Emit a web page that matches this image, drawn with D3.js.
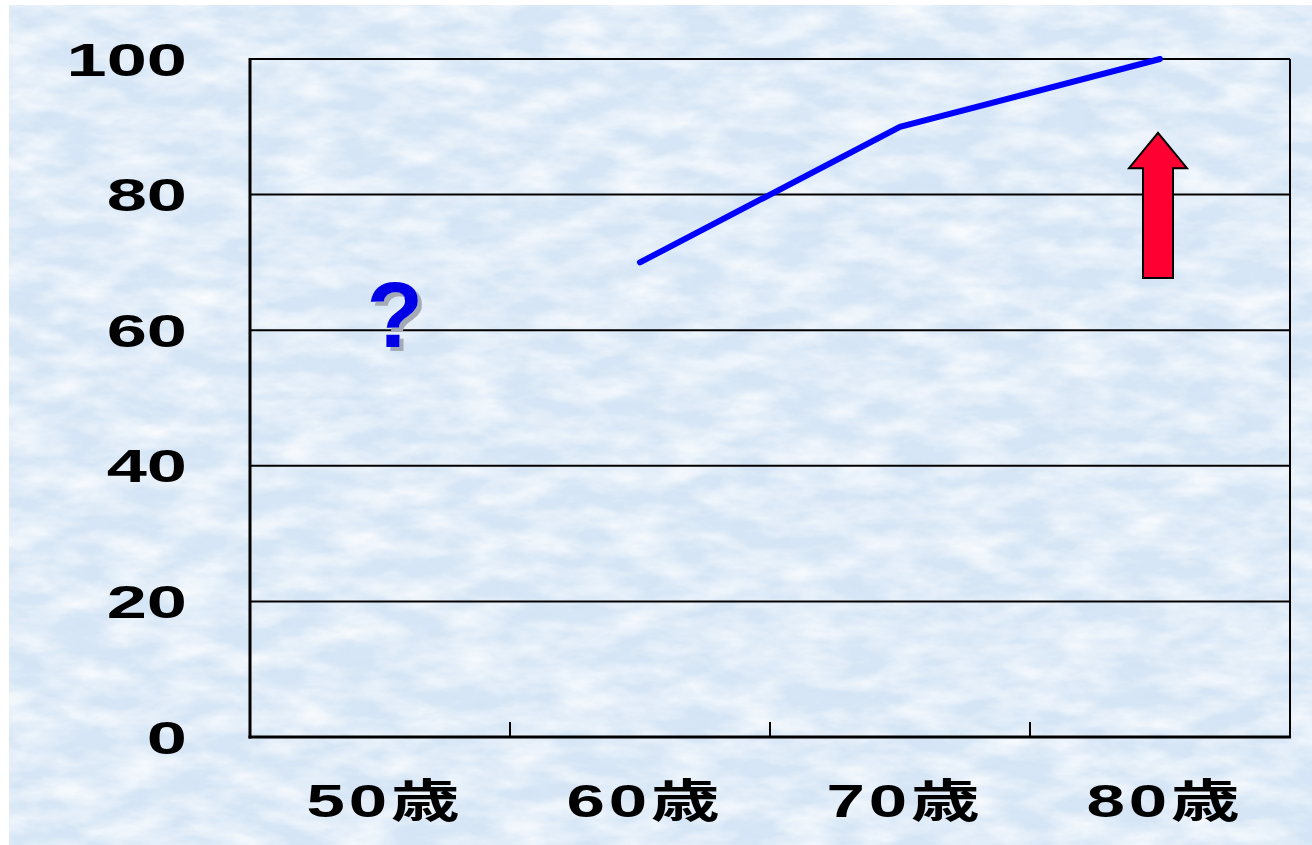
<!DOCTYPE html>
<html>
<head>
<meta charset="utf-8">
<script src="https://cdn.jsdelivr.net/npm/d3@7"></script>
<style>
  html, body { margin: 0; padding: 0; background: #ffffff; }
  svg { display: block; }
</style>
</head>
<body>
<svg id="chart" width="1312" height="845"></svg>
<script>
// Age groups along the x axis
const categories = ["50歳", "60歳", "70歳", "80歳"];
// Series values (50歳 has no value)
const values = [null, 70, 90, 100];
// Y axis tick labels
const yTicks = [0, 20, 40, 60, 80, 100];
// Rising-arrow annotation span (in y units) next to 80歳
const arrowFrom = 67.7;
const arrowHead = 83.9;
const arrowTo = 89.1;
// Question-mark annotation placed at this level on 50歳
const questionLevel = 57.5;

(function draw() {
  const svg = d3.select("#chart");
  const W = 1312, H = 845;
  const plotLeft = 250, plotRight = 1290, plotTop = 59, plotBottom = 737;

  // Mottled light-blue paper background
  const defs = svg.append("defs");
  const f = defs.append("filter").attr("id", "paper")
    .attr("x", 0).attr("y", 0).attr("width", "100%").attr("height", "100%");
  f.append("feTurbulence").attr("type", "fractalNoise")
    .attr("baseFrequency", "0.018 0.045").attr("numOctaves", 4).attr("seed", 7).attr("result", "n");
  f.append("feColorMatrix").attr("in", "n").attr("type", "matrix")
    .attr("values", "0 0 0 0 1  0 0 0 0 1  0 0 0 0 1  1.5 0 0 0 -0.5");
  const f2 = defs.append("filter").attr("id", "speck")
    .attr("x", 0).attr("y", 0).attr("width", "100%").attr("height", "100%");
  f2.append("feTurbulence").attr("type", "fractalNoise")
    .attr("baseFrequency", "0.06 0.1").attr("numOctaves", 3).attr("seed", 11).attr("result", "n");
  f2.append("feColorMatrix").attr("in", "n").attr("type", "matrix")
    .attr("values", "0 0 0 0 0.66  0 0 0 0 0.74  0 0 0 0 0.86  1.8 0 0 0 -0.8");

  // Drop shadow for the question mark
  const sh = defs.append("filter").attr("id", "qshadow")
    .attr("x", "-20%").attr("y", "-20%").attr("width", "150%").attr("height", "150%");
  sh.append("feFlood").attr("flood-color", "#a4a9b6").attr("result", "c");
  sh.append("feComposite").attr("in", "c").attr("in2", "SourceAlpha").attr("operator", "in").attr("result", "s");
  sh.append("feOffset").attr("in", "s").attr("dx", 4).attr("dy", 4).attr("result", "so");
  const m = sh.append("feMerge");
  m.append("feMergeNode").attr("in", "so");
  m.append("feMergeNode").attr("in", "SourceGraphic");

  svg.append("rect").attr("x", 9).attr("y", 5).attr("width", W - 9).attr("height", H - 5)
    .attr("fill", "#d6e6f6");
  svg.append("rect").attr("x", 9).attr("y", 5).attr("width", W - 9).attr("height", H - 5)
    .attr("filter", "url(#speck)").attr("opacity", 0.35);
  svg.append("rect").attr("x", 9).attr("y", 5).attr("width", W - 9).attr("height", H - 5)
    .attr("filter", "url(#paper)");

  // Scales
  const x = d3.scaleBand().domain(categories).range([plotLeft, plotRight]);
  const y = d3.scaleLinear().domain([0, 100]).range([plotBottom, plotTop]);
  const cx = c => x(c) + x.bandwidth() / 2;

  // Horizontal gridlines
  svg.append("g").selectAll("line")
    .data(yTicks.filter(v => v > 0))
    .join("line")
    .attr("x1", plotLeft).attr("x2", plotRight)
    .attr("y1", d => y(d)).attr("y2", d => y(d))
    .attr("stroke", "#000").attr("stroke-width", 2);

  // Right border of the plot area
  svg.append("line")
    .attr("x1", plotRight).attr("x2", plotRight).attr("y1", y(100)).attr("y2", y(0))
    .attr("stroke", "#000").attr("stroke-width", 2);

  // Category boundary ticks rising from the x axis
  svg.append("g").selectAll("line")
    .data(categories.slice(1))
    .join("line")
    .attr("x1", d => x(d)).attr("x2", d => x(d))
    .attr("y1", y(0)).attr("y2", y(0) - 15)
    .attr("stroke", "#000").attr("stroke-width", 2);

  // Axis lines
  svg.append("line")
    .attr("x1", plotLeft).attr("x2", plotLeft).attr("y1", y(100) - 1).attr("y2", y(0) + 1.5)
    .attr("stroke", "#000").attr("stroke-width", 3);
  svg.append("line")
    .attr("x1", plotLeft - 1.5).attr("x2", plotRight + 1).attr("y1", y(0)).attr("y2", y(0))
    .attr("stroke", "#000").attr("stroke-width", 3);

  // Y tick labels (wide bold face)
  const fontStack = "'Liberation Sans', Arial, 'Noto Sans CJK JP', sans-serif";
  svg.append("g").selectAll("text")
    .data(yTicks)
    .join("text")
    .attr("transform", d => `translate(187, ${y(d) + 16.5}) scale(1.57,1)`)
    .attr("text-anchor", "end")
    .attr("font-family", fontStack)
    .attr("font-weight", "bold")
    .attr("font-size", 46)
    .attr("fill", "#000")
    .text(d => d);

  // X category labels
  svg.append("g").selectAll("text")
    .data(categories)
    .join("text")
    .attr("transform", d => `translate(${cx(d) + 5}, 817) scale(1.5,1)`)
    .attr("text-anchor", "middle")
    .attr("font-family", fontStack)
    .attr("font-weight", "bold")
    .attr("font-size", 46)
    .attr("letter-spacing", 2.5)
    .attr("fill", "#000")
    .text(d => d);

  // Series line
  const pts = categories.map((c, i) => ({ c, v: values[i] }));
  svg.append("path")
    .datum(pts)
    .attr("fill", "none")
    .attr("stroke", "#0000ff")
    .attr("stroke-width", 6)
    .attr("stroke-linecap", "round")
    .attr("stroke-linejoin", "miter")
    .attr("d", d3.line().defined(d => d.v != null).x(d => cx(d.c)).y(d => y(d.v)));

  // Question mark annotation with drop shadow
  const qx = cx(categories[0]) + 15, qy = y(questionLevel);
  svg.append("text")
    .attr("x", qx).attr("y", qy)
    .attr("text-anchor", "middle")
    .attr("font-family", fontStack).attr("font-weight", "bold").attr("font-size", 93)
    .attr("fill", "#0000e6")
    .attr("filter", "url(#qshadow)")
    .text("?");

  // Upward red arrow annotation
  const ax = cx(categories[3]) - 2;
  const shaftHalf = 15, headHalf = 29;
  const arrowPath = [
    [ax - shaftHalf, y(arrowFrom)],
    [ax - shaftHalf, y(arrowHead)],
    [ax - headHalf, y(arrowHead)],
    [ax, y(arrowTo)],
    [ax + headHalf, y(arrowHead)],
    [ax + shaftHalf, y(arrowHead)],
    [ax + shaftHalf, y(arrowFrom)]
  ];
  svg.append("path")
    .attr("d", d3.line()(arrowPath) + "Z")
    .attr("fill", "#ff0033")
    .attr("stroke", "#000")
    .attr("stroke-width", 2)
    .attr("stroke-linejoin", "miter");
})();
</script>
</body>
</html>
